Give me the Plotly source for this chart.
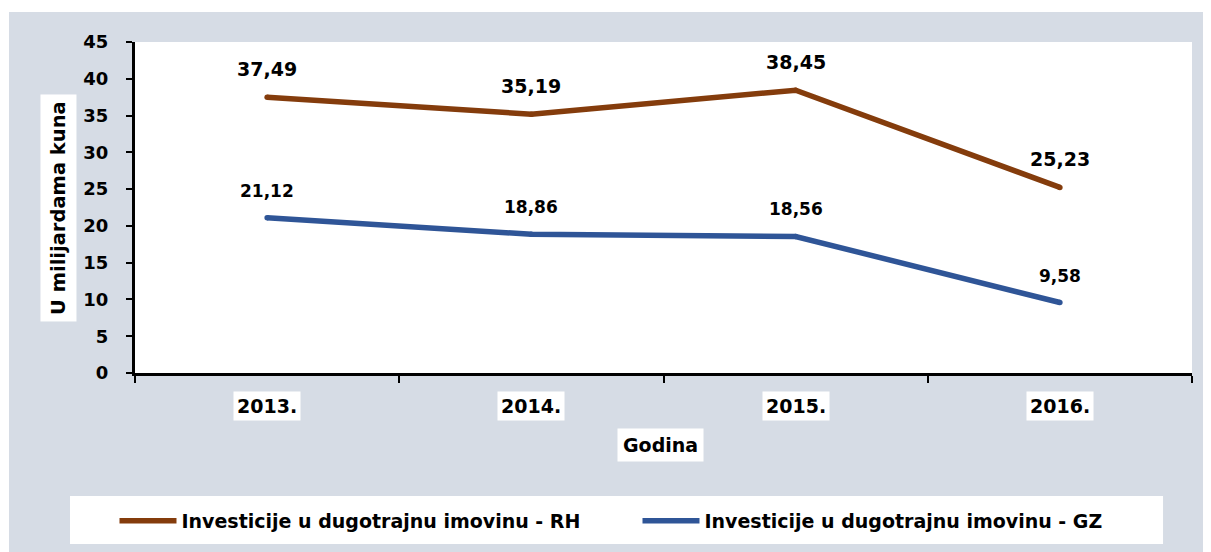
import plotly.graph_objects as go

years = ["2013.", "2014.", "2015.", "2016."]
rh_values = [37.49, 35.19, 38.45, 25.23]
gz_values = [21.12, 18.86, 18.56, 9.58]
rh_labels = ["37,49", "35,19", "38,45", "25,23"]
gz_labels = ["21,12", "18,86", "18,56", "9,58"]
rh_name = "Investicije u dugotrajnu imovinu - RH"
gz_name = "Investicije u dugotrajnu imovinu - GZ"
y_ticks = [0, 5, 10, 15, 20, 25, 30, 35, 40, 45]

FONT = "DejaVu Sans"
RH_COLOR = "#843C0C"
GZ_COLOR = "#2F5597"
BG = "#D6DCE5"
LW = 5.5

fig = go.Figure()
for vals, name, col in [(rh_values, rh_name, RH_COLOR), (gz_values, gz_name, GZ_COLOR)]:
    fig.add_trace(go.Scatter(x=years, y=vals, name=name, mode="lines",
                             line=dict(color=col, width=LW)))
    fig.add_trace(go.Scatter(x=years, y=vals, mode="markers", showlegend=False,
                             hoverinfo="skip",
                             marker=dict(color=col, size=LW, line=dict(width=0))))

def bold(size):
    return dict(family=FONT, size=size, color="black", weight="bold")

annotations = []
# category positions by index (labels like "2013." would be read as numbers)
for i, (v, t) in enumerate(zip(rh_values, rh_labels)):
    annotations.append(dict(x=i, y=v, xref="x", yref="y", text=t, showarrow=False,
                            xanchor="center", yanchor="middle", yshift=28, font=bold(19)))
for i, (v, t) in enumerate(zip(gz_values, gz_labels)):
    annotations.append(dict(x=i, y=v, xref="x", yref="y", text=t, showarrow=False,
                            xanchor="center", yanchor="middle", yshift=27, font=bold(17)))
for i, yr in enumerate(years):
    annotations.append(dict(x=i, y=-0.0997, xref="x", yref="paper", text=yr, showarrow=False,
                            bgcolor="white", borderpad=3, xanchor="center", yanchor="middle",
                            font=bold(19)))
annotations.append(dict(x=-0.0724, y=0.5, xref="paper", yref="paper", text="U milijardama kuna",
                        showarrow=False, textangle=-90, bgcolor="white", borderpad=6,
                        xanchor="center", yanchor="middle", font=bold(19.5)))
annotations.append(dict(x=0.4967, y=-0.2175, xref="paper", yref="paper", text="Godina",
                        showarrow=False, bgcolor="white", borderpad=5,
                        xanchor="center", yanchor="middle", font=bold(19)))

shapes = [
    dict(type="rect", xref="paper", yref="paper", x0=-0.2, x1=1.1, y0=1.0906, y1=1.3,
         fillcolor="white", line=dict(width=0), layer="below"),
    dict(type="rect", xref="paper", yref="paper", x0=-0.2, x1=-0.1192, y0=-0.7, y1=1.3,
         fillcolor="white", line=dict(width=0), layer="below"),
    dict(type="rect", xref="paper", yref="paper", x0=-0.0615, x1=0.9726, y0=-0.5166, y1=-0.3716,
         fillcolor="white", line=dict(width=0), layer="below"),
]

fig.update_layout(
    width=1203, height=544,
    margin=dict(l=127, r=19, t=34, b=179),
    paper_bgcolor=BG, plot_bgcolor="white",
    font=dict(family=FONT, size=18, color="black"),
    showlegend=True,
    legend=dict(orientation="h", x=-0.0194, y=-0.447, xanchor="left", yanchor="middle",
                bgcolor="rgba(0,0,0,0)", itemwidth=57, entrywidth=451, entrywidthmode="pixels",
                font=bold(19)),
    annotations=annotations,
    shapes=shapes,
    xaxis=dict(type="category", range=[-0.5, 3.5], showticklabels=False,
               ticks="outside", tickson="boundaries", ticklen=7, tickwidth=2, tickcolor="black",
               showline=True, linewidth=3, linecolor="black", showgrid=False, zeroline=False),
    yaxis=dict(range=[0, 45], tickvals=y_ticks, ticks="outside", ticklen=6, tickwidth=2,
               tickcolor="black", showline=True, linewidth=3, linecolor="black",
               showgrid=False, zeroline=False, ticklabelstandoff=14,
               tickfont=bold(18)),
)

fig.write_html("out.html")
